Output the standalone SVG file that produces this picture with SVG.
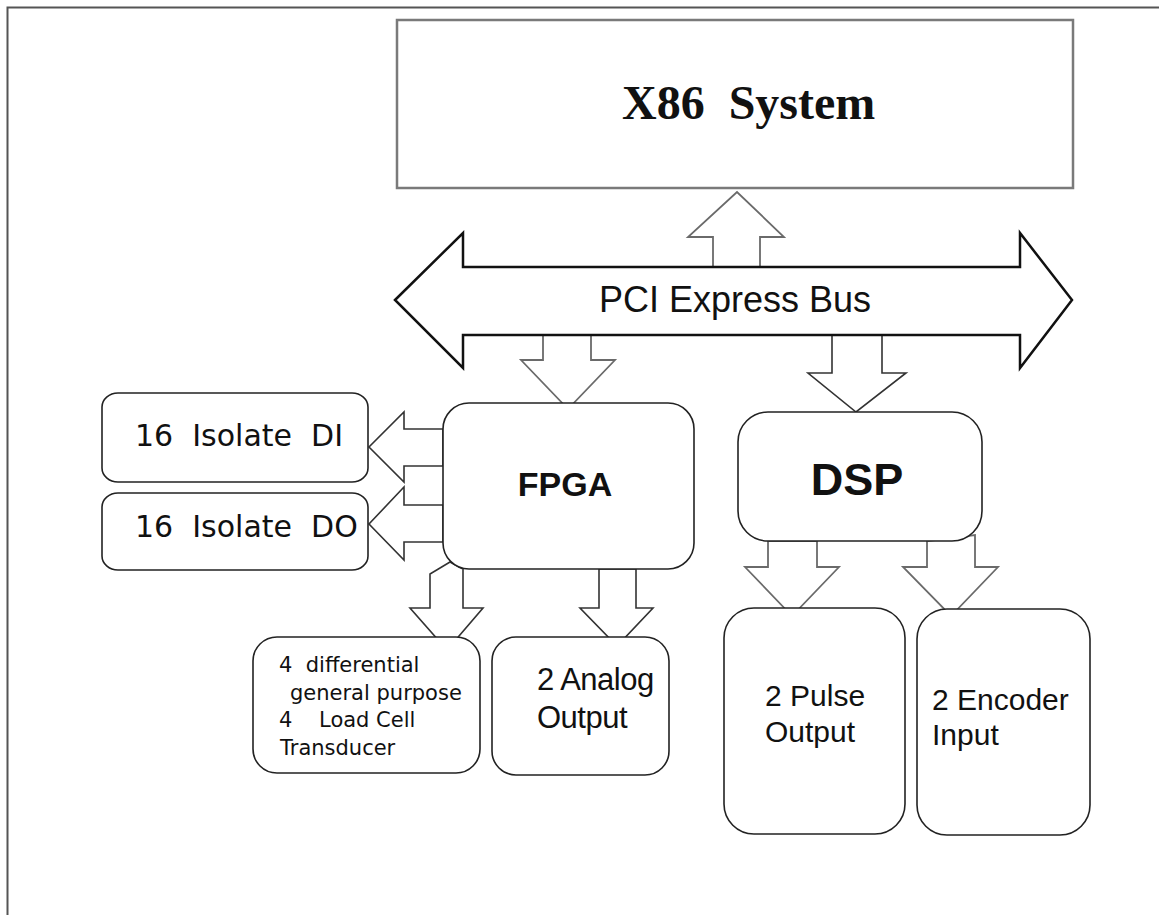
<svg xmlns="http://www.w3.org/2000/svg" width="1159" height="915" viewBox="0 0 1159 915">
  <style>
    .frame { stroke: #555; stroke-width: 2; fill: none; }
    .host { fill: #fff; stroke: #7a7a7a; stroke-width: 2.5; }
    .bus { fill: #fff; stroke: #111; stroke-width: 2.5; stroke-linejoin: miter; }
    .box { fill: #fff; stroke: #222; stroke-width: 1.6; }
    .flow { fill: #fff; stroke: #333; stroke-width: 1.6; stroke-linejoin: miter; }
    .flow-gray { fill: #fff; stroke: #6a6a6a; stroke-width: 1.8; stroke-linejoin: miter; }
    .serif-b { font-family: "Liberation Serif", "Times New Roman", serif; font-weight: bold; fill: #111; }
    .sans { font-family: "Liberation Sans", Arial, sans-serif; fill: #111; }
    .sans-b { font-family: "Liberation Sans", Arial, sans-serif; font-weight: bold; fill: #111; }
    .tah { font-family: "DejaVu Sans", Verdana, sans-serif; fill: #111; }
  </style>

  <!-- page frame (top and left rules) -->
  <path class="frame" d="M7.5,915 V7.5 H1159"/>

  <!-- data-flow arrows -->
  <g id="connectors">
    <!-- bus to X86 -->
    <polygon class="flow-gray" points="713,267 713,237 688,237 737,192 784,237 760,237 760,267"/>
    <!-- bus to FPGA -->
    <polygon class="flow-gray" points="543,335 543,360 521,360 568,409 615,360 591,360 591,335"/>
    <!-- bus to DSP -->
    <polygon class="flow" points="832,335 832,373 808,373 856,412 906,373 882,373 882,335"/>
    <!-- FPGA to digital inputs -->
    <polygon class="flow" points="443,429 404,429 404,412 369,447 404,482 404,466 443,466"/>
    <!-- FPGA to digital outputs -->
    <polygon class="flow" points="443,505 404,505 404,487 369,524 404,560 404,542 443,542"/>
    <!-- FPGA to load cell inputs -->
    <polygon class="flow" points="450,562 430,574 430,608 410,608 447,650 483,608 463,608 463,569"/>
    <!-- FPGA to analog outputs -->
    <polygon class="flow" points="599,569 599,608 580,608 617,646 653,608 636,608 636,569"/>
    <!-- DSP to pulse outputs -->
    <polygon class="flow-gray" points="768,541 768,567 745,567 792,616 839,567 817,567 817,541"/>
    <!-- DSP to encoder inputs -->
    <polygon class="flow-gray" points="927,541 927,567 903,567 951,616 998,567 975,567 975,535"/>
  </g>

  <g id="x86">
    <rect class="host" x="397" y="20" width="676" height="168"/>
    <text class="serif-b" x="622" y="119" font-size="48" xml:space="preserve">X86  System</text>
  </g>

  <g id="pci-bus">
    <polygon class="bus" points="395,300 463,233 463,267 1020,267 1020,233 1072,300 1020,368 1020,335 463,335 463,368"/>
    <text class="sans" x="735" y="312" font-size="36" text-anchor="middle">PCI Express Bus</text>
  </g>

  <g id="fpga">
    <rect class="box" x="443" y="403" width="251" height="166" rx="26" ry="26"/>
    <text class="sans-b" x="565" y="496" font-size="34" text-anchor="middle">FPGA</text>
  </g>

  <g id="dsp">
    <rect class="box" x="738" y="412" width="244" height="129" rx="30" ry="30"/>
    <text class="sans-b" x="857" y="495" font-size="45" text-anchor="middle">DSP</text>
  </g>

  <g id="isolate-di">
    <rect class="box" x="102" y="393" width="266" height="89" rx="16" ry="14"/>
    <text class="tah" x="135" y="446" font-size="30" xml:space="preserve">16  Isolate  DI</text>
  </g>

  <g id="isolate-do">
    <rect class="box" x="102" y="493" width="266" height="77" rx="16" ry="14"/>
    <text class="tah" x="135" y="537" font-size="30" xml:space="preserve">16  Isolate  DO</text>
  </g>

  <g id="load-cell">
    <rect class="box" x="253" y="637" width="227" height="136" rx="24" ry="24"/>
    <text class="tah" font-size="21" xml:space="preserve"><tspan x="279" y="672">4  differential</tspan><tspan x="290" y="700">general purpose</tspan><tspan x="279" y="727">4    Load Cell</tspan><tspan x="280" y="755">Transducer</tspan></text>
  </g>

  <g id="analog-out">
    <rect class="box" x="492" y="637" width="177" height="138" rx="24" ry="24"/>
    <text class="sans" font-size="31" letter-spacing="-0.5">
      <tspan x="537" y="690">2 Analog</tspan>
      <tspan x="537" y="728">Output</tspan>
    </text>
  </g>

  <g id="pulse-out">
    <rect class="box" x="724" y="608" width="181" height="226" rx="30" ry="30"/>
    <text class="sans" font-size="30">
      <tspan x="765" y="706">2 Pulse</tspan>
      <tspan x="765" y="742">Output</tspan>
    </text>
  </g>

  <g id="encoder-in">
    <rect class="box" x="917" y="609" width="173" height="226" rx="30" ry="30"/>
    <text class="sans" font-size="30">
      <tspan x="932" y="710">2 Encoder</tspan>
      <tspan x="932" y="745">Input</tspan>
    </text>
  </g>
</svg>
